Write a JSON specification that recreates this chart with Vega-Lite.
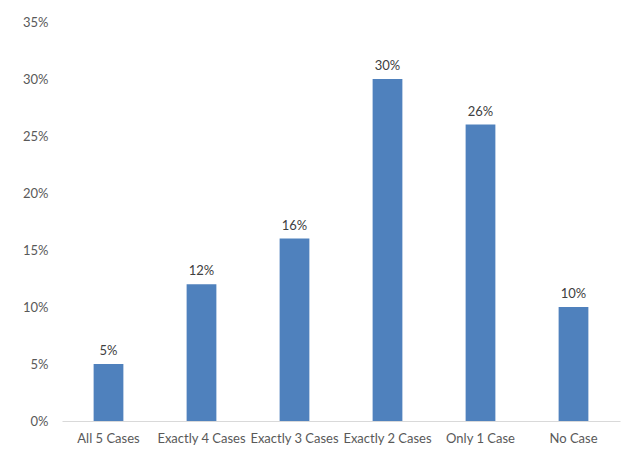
{
  "$schema": "https://vega.github.io/schema/vega-lite/v6.json",
  "width": 558,
  "height": 399,
  "autosize": {"type": "none"},
  "padding": {"left": 62, "top": 22, "right": 11, "bottom": 34},
  "background": "white",
  "config": {
    "view": {"stroke": null},
    "font": "Lato",
    "axis": {"labelFont": "Lato", "labelFontSize": 13, "labelColor": "#595959", "grid": false, "ticks": false}
  },
  "data": {
    "values": [
      {"category": "All 5 Cases", "value": 0.05},
      {"category": "Exactly 4 Cases", "value": 0.12},
      {"category": "Exactly 3 Cases", "value": 0.16},
      {"category": "Exactly 2 Cases", "value": 0.30},
      {"category": "Only 1 Case", "value": 0.26},
      {"category": "No Case", "value": 0.10}
    ]
  },
  "encoding": {
    "x": {
      "field": "category", "type": "nominal", "sort": null, "title": null,
      "scale": {"paddingInner": 0.68, "paddingOuter": 0.34},
      "axis": {"labelAngle": 0, "labelPadding": 11, "domainColor": "#d9d9d9", "domainWidth": 1}
    },
    "y": {
      "field": "value", "type": "quantitative", "title": null,
      "scale": {"domain": [0, 0.35], "nice": false},
      "axis": {"format": ".0%", "values": [0, 0.05, 0.1, 0.15, 0.2, 0.25, 0.3, 0.35], "domain": false, "labelPadding": 14}
    }
  },
  "layer": [
    {"mark": {"type": "bar", "color": "#4F81BD"}},
    {
      "mark": {"type": "text", "baseline": "bottom", "dy": -6, "fontSize": 13, "color": "#404040", "font": "Lato"},
      "encoding": {"text": {"field": "value", "type": "quantitative", "format": ".0%"}}
    }
  ]
}
